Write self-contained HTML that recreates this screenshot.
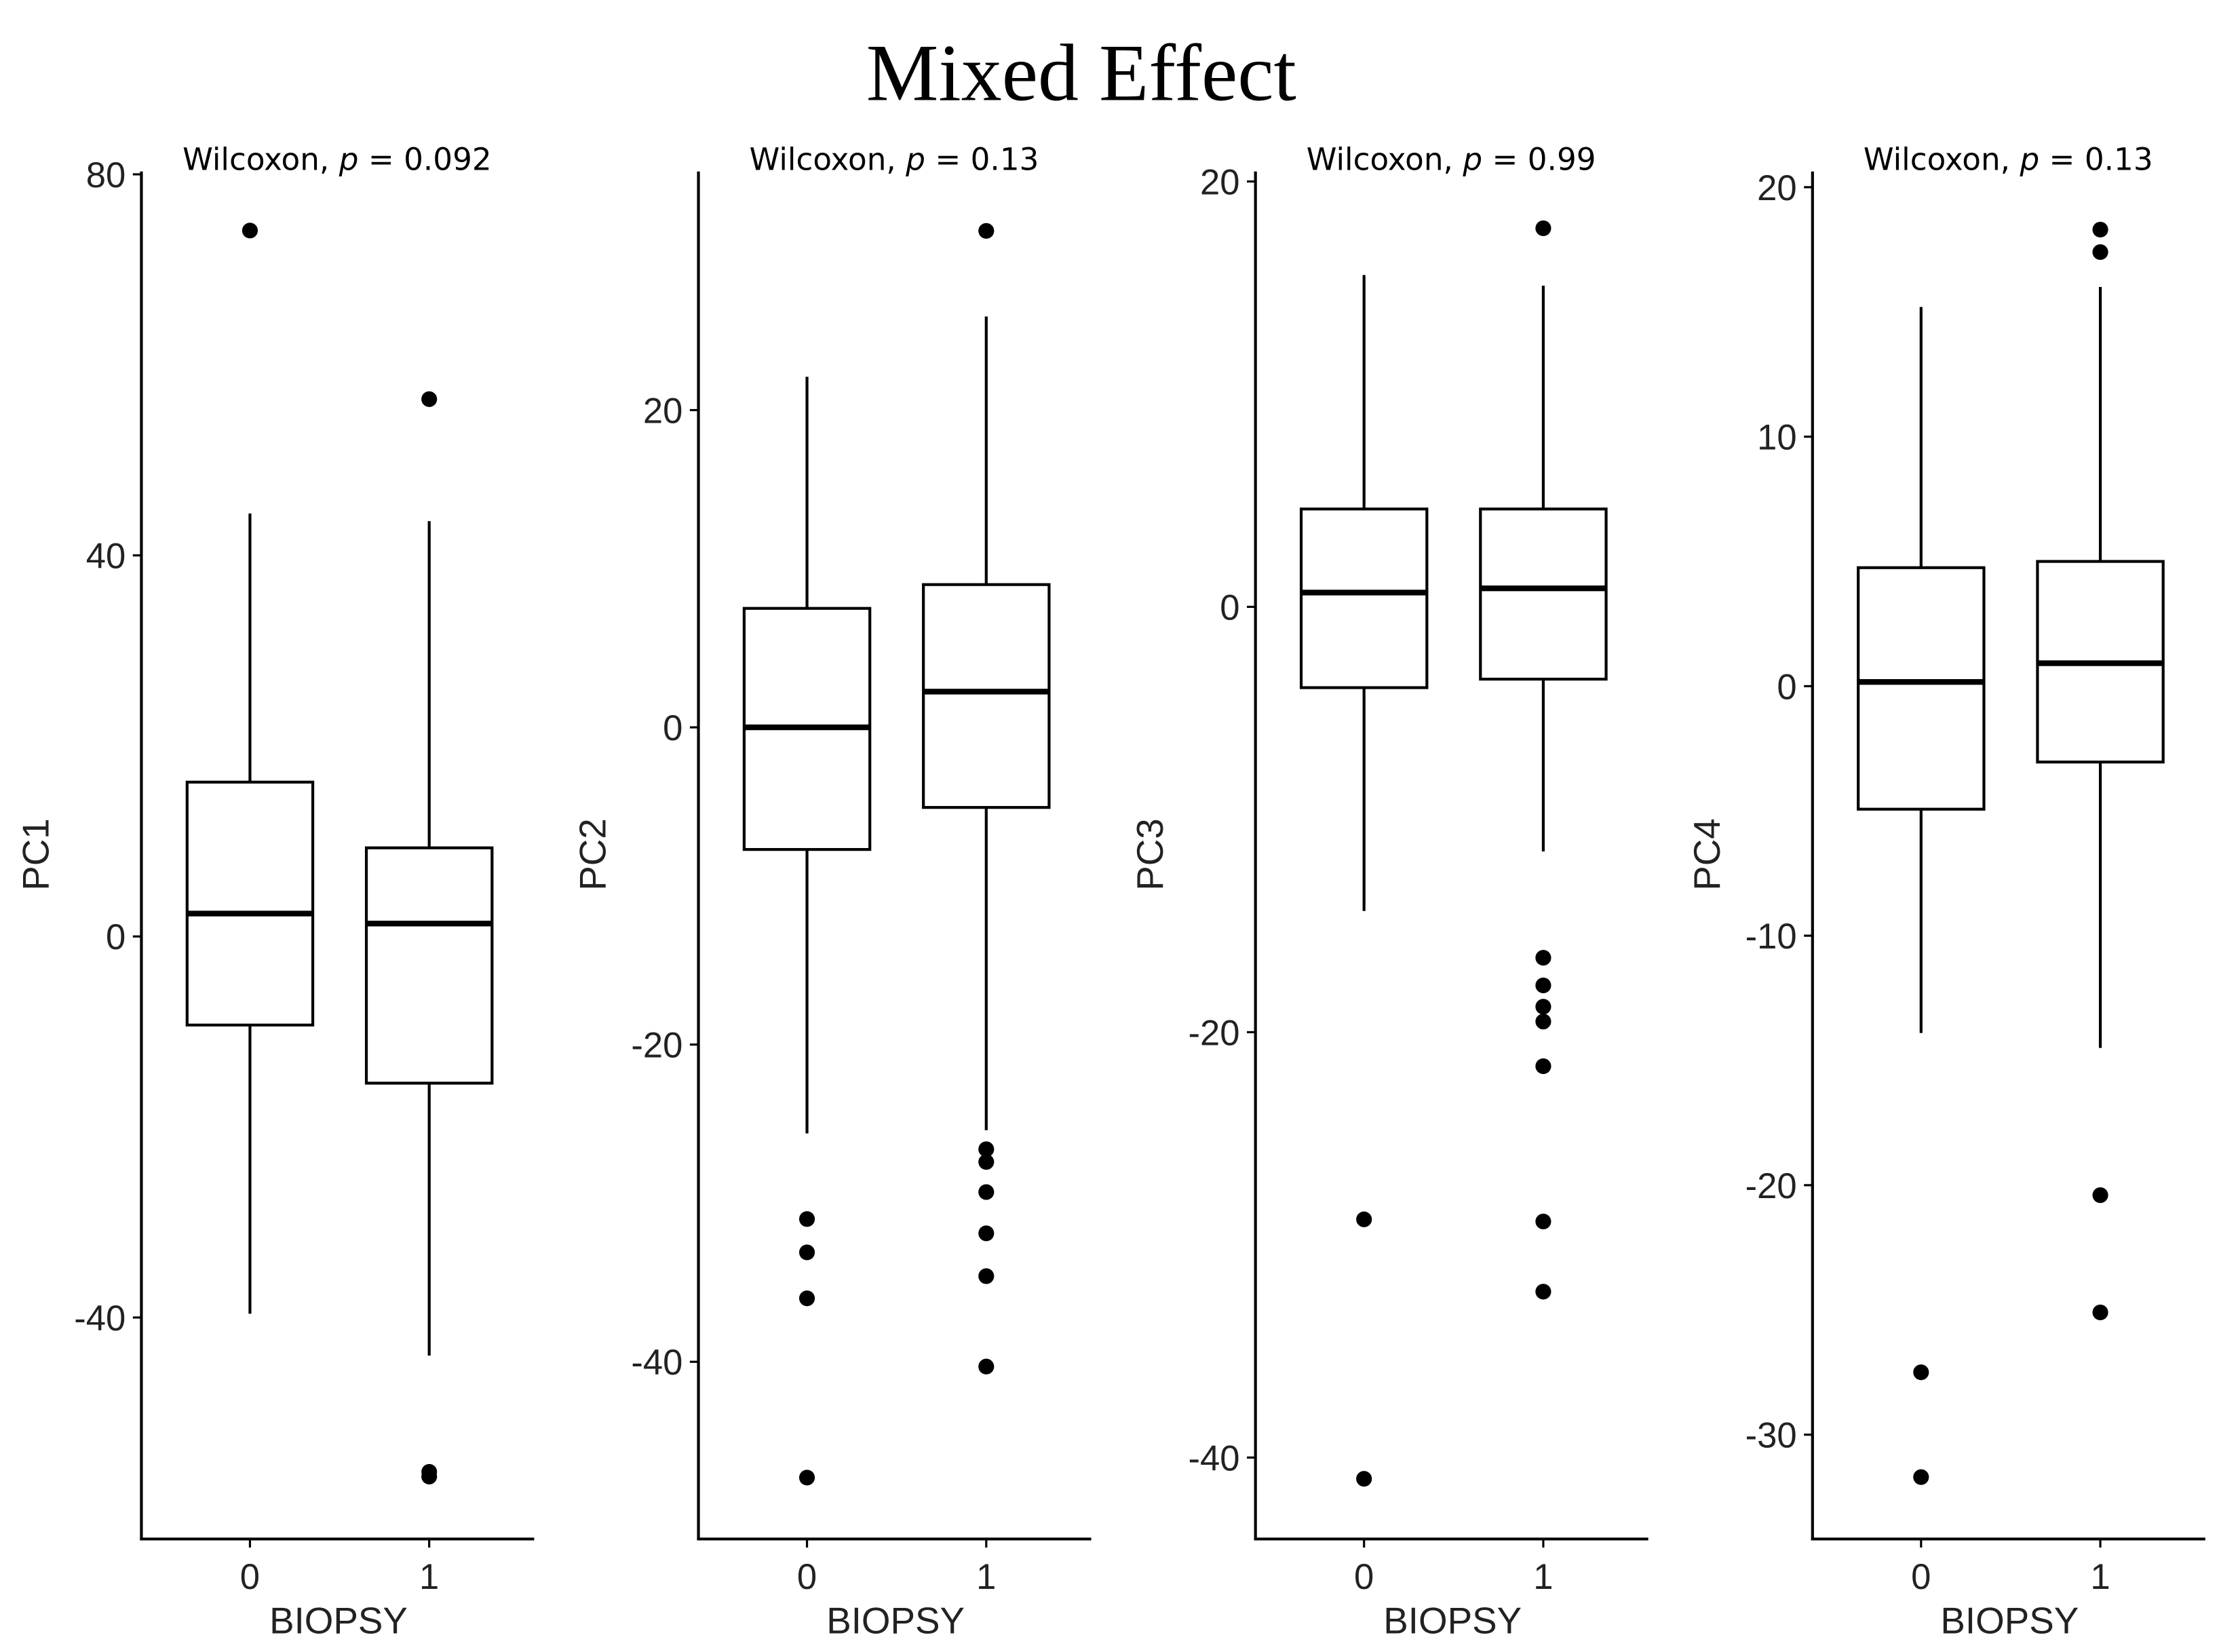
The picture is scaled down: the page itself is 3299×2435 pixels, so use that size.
<!DOCTYPE html>
<html><head><meta charset="utf-8"><style>
html,body{margin:0;padding:0;background:#fff;}
svg{display:block;}
</style></head><body>
<svg id="chart" width="3299" height="2435" viewBox="0 0 1560 1151" preserveAspectRatio="none" xmlns="http://www.w3.org/2000/svg">
<rect width="1560" height="1151" fill="#fff"/>
<g id="root" transform="scale(0.9956)">
<text x="757" y="70" text-anchor="middle" font-family="Liberation Serif, serif" font-size="57">Mixed Effect</text>
</g>
</svg>
<script>
const panelNames = ["PC1","PC2","PC3","PC4"];
const pValues = ["0.092","0.13","0.99","0.13"];
const categories = ["0","1"];
const ticksPC1 = [80,40,0,-40];
const ticksPC2 = [20,0,-20,-40];
const ticksPC3 = [20,0,-20,-40];
const ticksPC4 = [20,10,0,-10,-20,-30];
// [whiskerLow, Q1, median, Q3, whiskerHigh] per category
const statsPC1 = [[-39.6,-9.3,2.4,16.2,44.4],[-44,-15.4,1.35,9.3,43.6]];
const statsPC2 = [[-25.6,-7.7,0,7.5,22.1],[-25.4,-5.05,2.25,9,25.9]];
const statsPC3 = [[-14.3,-3.8,0.67,4.6,15.6],[-11.5,-3.4,0.87,4.6,15.1]];
const statsPC4 = [[-13.9,-4.93,0.17,4.75,15.2],[-14.5,-3.04,0.92,5,16]];
const outliersPC1 = [[74.1],[56.4,-56.2,-56.7]];
const outliersPC2 = [[-31,-33.1,-36,-47.3],[31.3,-26.6,-27.4,-29.3,-31.9,-34.6,-40.3]];
const outliersPC3 = [[-28.8,-41],[17.8,-16.5,-17.8,-18.8,-19.5,-21.6,-28.9,-32.2]];
const outliersPC4 = [[-27.5,-31.7],[18.3,17.4,-20.4,-25.1]];

const ticksAll=[ticksPC1,ticksPC2,ticksPC3,ticksPC4];
const statsAll=[statsPC1,statsPC2,statsPC3,statsPC4];
const outAll=[outliersPC1,outliersPC2,outliersPC3,outliersPC4];
const layout=[
 {ax:99, v1:80,y1:122, v2:-40,y2:922},
 {ax:489,v1:20,y1:287, v2:-40,y2:953},
 {ax:879,v1:20,y1:127, v2:-40,y2:1020},
 {ax:1269,v1:20,y1:131,v2:-30,y2:1004}
];
const svg=document.getElementById('root');
const NS="http://www.w3.org/2000/svg";
function mk(tag,attrs,parent){const e=document.createElementNS(NS,tag);for(const k in attrs)e.setAttribute(k,attrs[k]);(parent||svg).appendChild(e);return e;}
const AXB=1077, TOP=120;
layout.forEach((L,p)=>{
  const g=mk('g',{});
  
  
  const yS=v=>L.y1+(v-L.v1)*(L.y2-L.y1)/(L.v2-L.v1);
  const xS=i=>L.ax+76+i*125.5;
  const ya=mk('line',{x1:L.ax,x2:L.ax,y1:TOP,y2:AXB+1,stroke:'#000','stroke-width':2},g);
  
  
  const xa=mk('line',{x1:L.ax-1,x2:L.ax+275,y1:AXB,y2:AXB,stroke:'#000','stroke-width':2},g);
  
  
  ticksAll[p].forEach(t=>{
    const y=yS(t);
    mk('line',{x1:L.ax-6,x2:L.ax,y1:y,y2:y,stroke:'#000','stroke-width':1.5},g);
    const tx=mk('text',{x:L.ax-11,y:y+9,'text-anchor':'end','font-family':'Liberation Sans, sans-serif','font-size':25,fill:'#222'},g);
    tx.textContent=t;
    
    
  });
  categories.forEach((c,i)=>{
    const x=xS(i);
    mk('line',{x1:x,x2:x,y1:AXB,y2:AXB+6,stroke:'#000','stroke-width':1.5},g);
    const tx=mk('text',{x:x,y:1112,'text-anchor':'middle','font-family':'Liberation Sans, sans-serif','font-size':25,fill:'#222'},g);
    tx.textContent=c;
    
    
    const s=statsAll[p][i];
    const bg=mk('g',{},g);
    
    
    mk('line',{x1:x,x2:x,y1:yS(s[4]),y2:yS(s[3]),stroke:'#000','stroke-width':2},bg);
    mk('line',{x1:x,x2:x,y1:yS(s[1]),y2:yS(s[0]),stroke:'#000','stroke-width':2},bg);
    mk('rect',{x:x-44,y:yS(s[3]),width:88,height:yS(s[1])-yS(s[3]),fill:'#fff',stroke:'#000','stroke-width':2},bg);
    mk('line',{x1:x-44,x2:x+44,y1:yS(s[2]),y2:yS(s[2]),stroke:'#000','stroke-width':4},bg);
    outAll[p][i].forEach(v=>{
      const d=mk('circle',{cx:x,cy:yS(v),r:5.5,fill:'#000'},bg);
      
      
    });
  });
  const st=mk('text',{x:L.ax+137,y:119,'text-anchor':'middle','font-family':'DejaVu Sans, sans-serif','font-size':21.5,fill:'#000'},g);
  st.innerHTML='Wilcoxon, <tspan font-style="italic">p</tspan> = '+pValues[p];
  
  
  const xl=mk('text',{x:L.ax+138,y:1143,'text-anchor':'middle','font-family':'Liberation Sans, sans-serif','font-size':26,fill:'#222'},g);
  xl.textContent='BIOPSY';
  
  
  const yl=mk('text',{x:0,y:0,transform:'translate('+(L.ax-65)+',598) rotate(-90)','text-anchor':'middle','font-family':'Liberation Sans, sans-serif','font-size':26,fill:'#222'},g);
  yl.textContent=panelNames[p];
  
  
});
</script>
</body></html>
